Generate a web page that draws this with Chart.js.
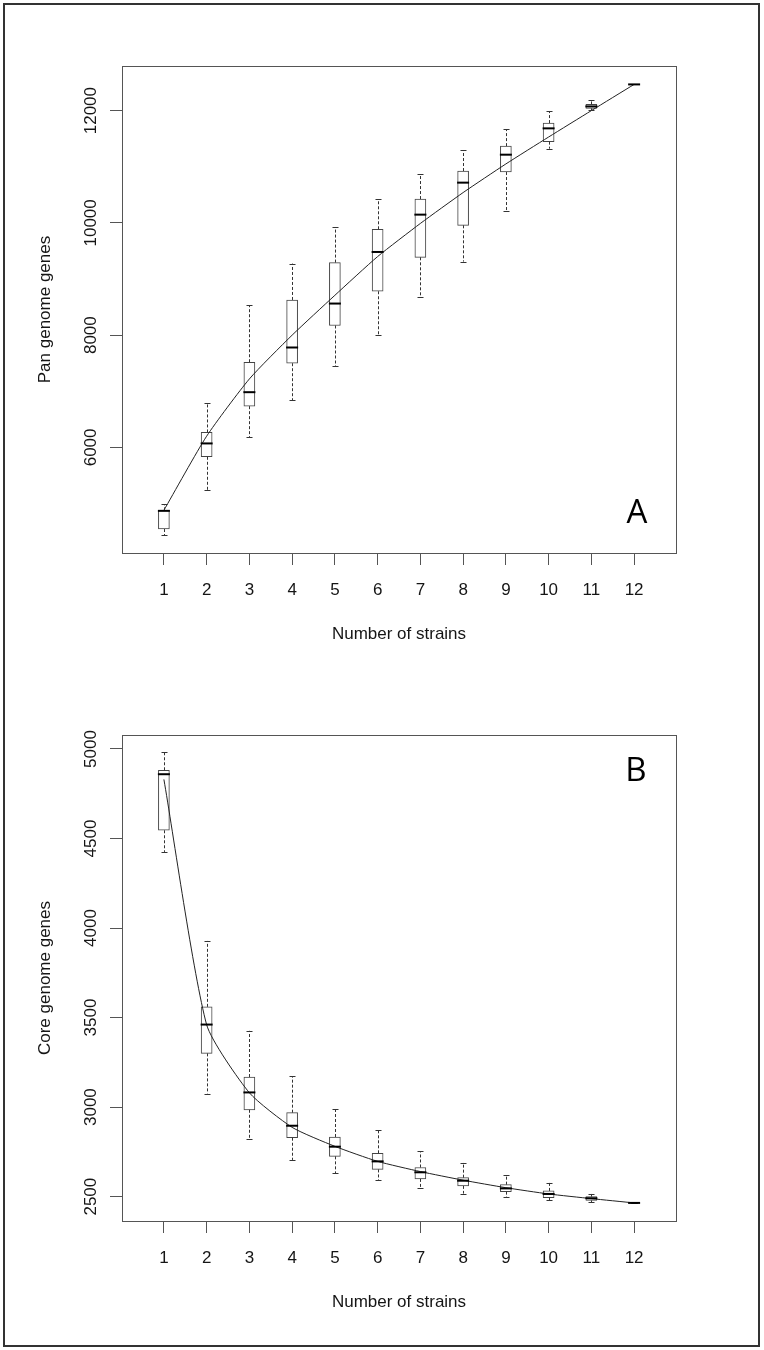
<!DOCTYPE html>
<html>
<head>
<meta charset="utf-8">
<script src="https://cdn.jsdelivr.net/npm/chart.js@4/dist/chart.umd.min.js"></script>
<style>
  body { margin: 0; background: #fff; }
  #frame { position: absolute; left: 3px; top: 3px; width: 753px; height: 1340px; border: 2px solid #333; }
  canvas { position: absolute; left: 0; }
</style>
</head>
<body>
<div id="frame"></div>
<canvas id="panA" width="764" height="680" style="top:0px"></canvas>
<canvas id="panB" width="764" height="670" style="top:680px"></canvas>
<script>
// number of strains (x axis)
const strains = [1, 2, 3, 4, 5, 6, 7, 8, 9, 10, 11, 12];

// A - pan genome genes
const panMin = [4434, 5235, 6183, 6837, 7442, 8011, 8681, 9311, 10206, 11322, 12004, 12467];
const panQ1  = [4546, 5833, 6735, 7500, 8172, 8782, 9387, 9957, 10906, 11447, 12040, 12467];
const panMed = [4870, 6071, 6984, 7780, 8563, 9482, 10147, 10717, 11215, 11684, 12075, 12467];
const panQ3  = [4879, 6267, 7518, 8627, 9293, 9886, 10425, 10924, 11368, 11778, 12111, 12467];
const panMax = [4985, 6794, 8533, 9275, 9927, 10420, 10870, 11292, 11671, 11986, 12187, 12467];
const panFit = [4880, 6200, 7220, 8000, 8710, 9400, 9990, 10540, 11050, 11530, 12000, 12467];
const panTicks = [6000, 8000, 10000, 12000];

// B - core genome genes
const coreMin = [4425, 3075, 2824, 2705, 2632, 2591, 2549, 2517, 2496, 2479, 2470, 2465];
const coreQ1  = [4546, 3300, 2985, 2829, 2725, 2652, 2599, 2560, 2528, 2494, 2479, 2465];
const coreMed = [4859, 3461, 3082, 2896, 2779, 2697, 2636, 2589, 2546, 2515, 2491, 2465];
const coreQ3  = [4881, 3560, 3168, 2969, 2833, 2742, 2663, 2606, 2567, 2532, 2500, 2465];
const coreMax = [4981, 3928, 3426, 3173, 2991, 2872, 2753, 2690, 2619, 2578, 2515, 2465];
const coreFit = [4830, 3460, 3080, 2887, 2781, 2697, 2640, 2592, 2550, 2515, 2489, 2465];
const coreTicks = [2500, 3000, 3500, 4000, 4500, 5000];

const FAMILY = "'Liberation Sans', Arial, sans-serif";
const TEXT = '#151515';

// whiskers, medians, frame, rotated y labels and the panel letter
function extrasPlugin(stats, letter, letterPos) {
    return {
        id: 'boxExtras',
        afterDatasetsDraw(chart) {
            const { ctx, scales: { x, y } } = chart;
            ctx.save();
            ctx.strokeStyle = '#333';
            ctx.lineWidth = 1;
            ctx.setLineDash([3, 2]);
            strains.forEach((s, i) => {
                const px = Math.round(x.getPixelForValue(s)) + 0.5;
                ctx.beginPath();
                ctx.moveTo(px, y.getPixelForValue(stats.q3[i]));
                ctx.lineTo(px, y.getPixelForValue(stats.max[i]));
                ctx.moveTo(px, y.getPixelForValue(stats.q1[i]));
                ctx.lineTo(px, y.getPixelForValue(stats.min[i]));
                ctx.stroke();
            });
            ctx.setLineDash([]);
            // staples
            strains.forEach((s, i) => {
                const px = Math.round(x.getPixelForValue(s)) + 0.5;
                ctx.beginPath();
                [stats.max[i], stats.min[i]].forEach(v => {
                    const py = Math.round(y.getPixelForValue(v)) + 0.5;
                    ctx.moveTo(px - 3, py);
                    ctx.lineTo(px + 3, py);
                });
                ctx.stroke();
            });
            // medians
            ctx.strokeStyle = '#000';
            ctx.lineWidth = 2;
            strains.forEach((s, i) => {
                const px = x.getPixelForValue(s);
                const py = y.getPixelForValue(stats.med[i]);
                ctx.beginPath();
                ctx.moveTo(px - 6, py);
                ctx.lineTo(px + 6, py);
                ctx.stroke();
            });
            ctx.restore();
        },
        afterDraw(chart) {
            const { ctx, chartArea: a, scales: { y } } = chart;
            ctx.save();
            ctx.strokeStyle = '#555';
            ctx.lineWidth = 1;
            ctx.strokeRect(a.left + 0.5, a.top + 0.5, a.right - a.left, a.bottom - a.top);

            ctx.fillStyle = TEXT;
            ctx.font = '17px ' + FAMILY;
            ctx.textAlign = 'center';
            ctx.textBaseline = 'middle';
            y.ticks.forEach(t => {
                ctx.save();
                ctx.translate(91, y.getPixelForValue(t.value));
                ctx.rotate(-Math.PI / 2);
                ctx.fillText(String(t.value), 0, 0);
                ctx.restore();
            });

            ctx.font = "33px 'Open Sans', 'Noto Sans', sans-serif";
            ctx.fillStyle = '#000';
            ctx.fillText(letter, a.right + letterPos[0], letterPos[1] < 0 ? a.bottom + letterPos[1] : a.top + letterPos[1]);
            ctx.restore();
        }
    };
}

function makePanel(id, opts) {
    const ctx = document.getElementById(id).getContext('2d');
    const boxes = strains.map((s, i) => ({ x: s, y: [opts.q1[i], opts.q3[i]] }));
    const fit = strains.map((s, i) => ({ x: s, y: opts.fit[i] }));

    return new Chart(ctx, {
        data: {
            datasets: [{
                type: 'line',
                data: fit,
                borderColor: '#222',
                borderWidth: 1,
                pointRadius: 0,
                tension: 0.2,
                order: 0
            }, {
                type: 'bar',
                data: boxes,
                backgroundColor: '#fff',
                borderColor: '#444',
                borderWidth: 1,
                borderSkipped: false,
                barThickness: 11,
                order: 1
            }]
        },
        options: {
            responsive: false,
            animation: false,
            layout: { padding: { left: 0, top: opts.padTop, right: 88, bottom: 0 } },
            plugins: { legend: { display: false }, tooltip: { enabled: false } },
            scales: {
                x: {
                    type: 'linear',
                    min: 0.02,
                    max: 12.98,
                    offset: false,
                    afterBuildTicks: s => { s.ticks = strains.map(v => ({ value: v })); },
                    afterFit: s => { s.height = opts.xHeight; },
                    grid: { offset: false, drawOnChartArea: false, drawTicks: true, tickLength: 12, color: '#555' },
                    border: { display: false },
                    ticks: { font: { family: FAMILY, size: 17 }, color: TEXT, padding: opts.tickPad, maxRotation: 0, autoSkip: false },
                    title: {
                        display: true,
                        text: 'Number of strains',
                        color: TEXT,
                        font: { family: FAMILY, size: 17 },
                        padding: { top: 0, bottom: opts.titlePad }
                    }
                },
                y: {
                    type: 'linear',
                    min: opts.yMin,
                    max: opts.yMax,
                    afterBuildTicks: s => { s.ticks = opts.yTicks.map(v => ({ value: v })); },
                    afterFit: s => { s.width = 122; },
                    grid: { drawOnChartArea: false, drawTicks: true, tickLength: 12, color: '#555' },
                    border: { display: false },
                    ticks: { display: false },
                    title: {
                        display: true,
                        text: opts.yTitle,
                        color: TEXT,
                        font: { family: FAMILY, size: 17 },
                        padding: { top: 35, bottom: 0 }
                    }
                }
            }
        },
        plugins: [extrasPlugin(opts, opts.letter, opts.letterPos)]
    });
}

makePanel('panA', {
    min: panMin, q1: panQ1, med: panMed, q3: panQ3, max: panMax, fit: panFit,
    yMin: 4119, yMax: 12795, yTicks: panTicks, yTitle: 'Pan genome genes',
    padTop: 66, xHeight: 127, tickPad: 15, titlePad: 35,
    letter: 'A', letterPos: [-39, -39]
});

makePanel('panB', {
    min: coreMin, q1: coreQ1, med: coreMed, q3: coreQ3, max: coreMax, fit: coreFit,
    yMin: 2364, yMax: 5078, yTicks: coreTicks, yTitle: 'Core genome genes',
    padTop: 55, xHeight: 129, tickPad: 15, titlePad: 37,
    letter: 'B', letterPos: [-40, 37]
});
</script>
</body>
</html>
